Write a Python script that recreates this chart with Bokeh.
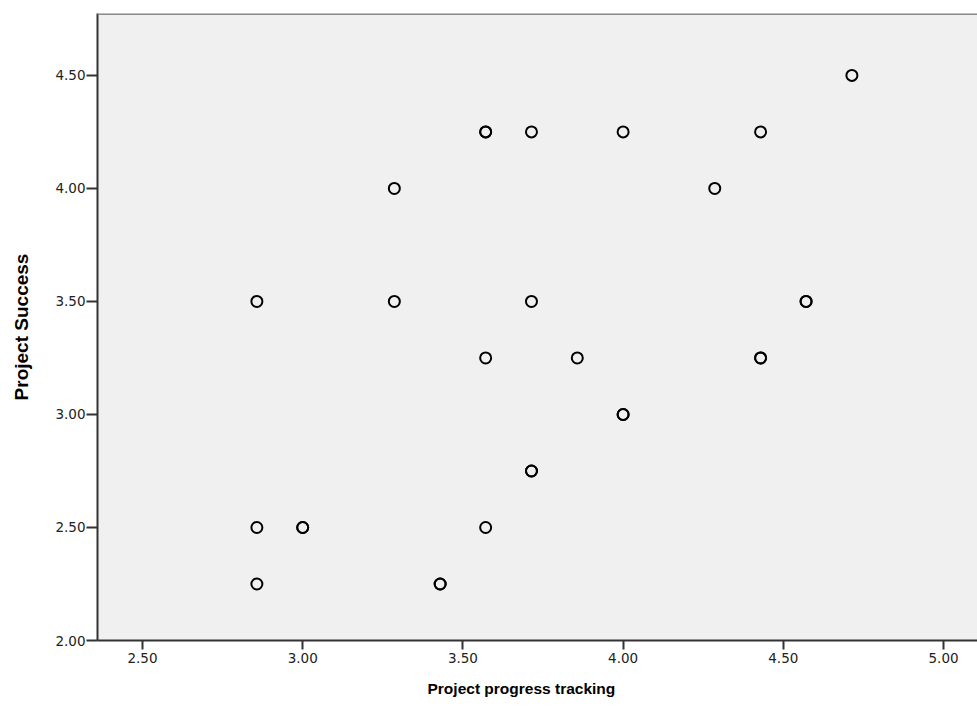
from bokeh.plotting import figure
from bokeh.models import Range1d, FixedTicker, Span, CustomJSTickFormatter, Title
from bokeh.embed import file_html
from bokeh.resources import INLINE

# Data (Project progress tracking vs Project Success), duplicates included
progress = [4.714,
            3.571, 3.571, 3.714, 4.000, 4.429,
            3.286, 4.286,
            2.857, 3.286, 3.714, 4.571, 4.571,
            3.571, 3.857, 4.429, 4.429,
            4.000, 4.000,
            3.714, 3.714,
            2.857, 3.000, 3.000, 3.571,
            2.857, 3.429, 3.429]
success = [4.50,
           4.25, 4.25, 4.25, 4.25, 4.25,
           4.00, 4.00,
           3.50, 3.50, 3.50, 3.50, 3.50,
           3.25, 3.25, 3.25, 3.25,
           3.00, 3.00,
           2.75, 2.75,
           2.50, 2.50, 2.50, 2.50,
           2.25, 2.25, 2.25]
x_ticks = [2.5, 3.0, 3.5, 4.0, 4.5, 5.0]
y_ticks = [2.0, 2.5, 3.0, 3.5, 4.0, 4.5]

Y_TOP = 4.774
p = figure(width=977, height=710, output_backend="svg", toolbar_location=None,
           x_range=Range1d(2.3596, 5.106), y_range=Range1d(2.0, Y_TOP),
           min_border_left=97, min_border_top=13, min_border_bottom=70, min_border_right=0)
p.background_fill_color = "#f0f0f0"
p.border_fill_color = "white"
p.outline_line_color = None
p.xgrid.visible = False
p.ygrid.visible = False

p.scatter(progress, success, marker="circle", size=11, fill_color=None,
          line_color="black", line_width=2)

p.add_layout(Span(location=Y_TOP, dimension="width", line_color="#8a8a8a", line_width=3))

fmt = CustomJSTickFormatter(code="return tick.toFixed(2);")
for ax, ticks in ((p.xaxis[0], x_ticks), (p.yaxis[0], y_ticks)):
    ax.ticker = FixedTicker(ticks=ticks)
    ax.formatter = fmt
    ax.minor_tick_line_color = None
    ax.major_tick_in = 0
    ax.major_tick_line_color = "#333333"
    ax.major_tick_line_width = 2
    ax.axis_line_color = "#333333"
    ax.axis_line_width = 2
    ax.major_label_text_font = "DejaVu Sans"
    ax.major_label_text_font_size = "13.5px"
    ax.major_label_text_color = "#222222"
    ax.axis_label_text_font = "Liberation Sans"
    ax.axis_label_text_font_style = "bold"
    ax.axis_label_text_color = "black"

p.yaxis.axis_label = "Project Success"
p.yaxis.axis_label_text_font_size = "19px"
p.xaxis.major_tick_out = 9
p.yaxis.major_tick_out = 11
p.xaxis.major_label_standoff = 3
p.yaxis.major_label_standoff = 1
p.yaxis.axis_label_standoff = 20

xlab = Title(text="Project progress tracking", align="left", offset=330,
             text_font="Liberation Sans", text_font_size="15.5px",
             text_font_style="bold", text_color="black", standoff=24)
p.add_layout(xlab, "below")

open("out.html", "w").write(file_html(p, INLINE))
